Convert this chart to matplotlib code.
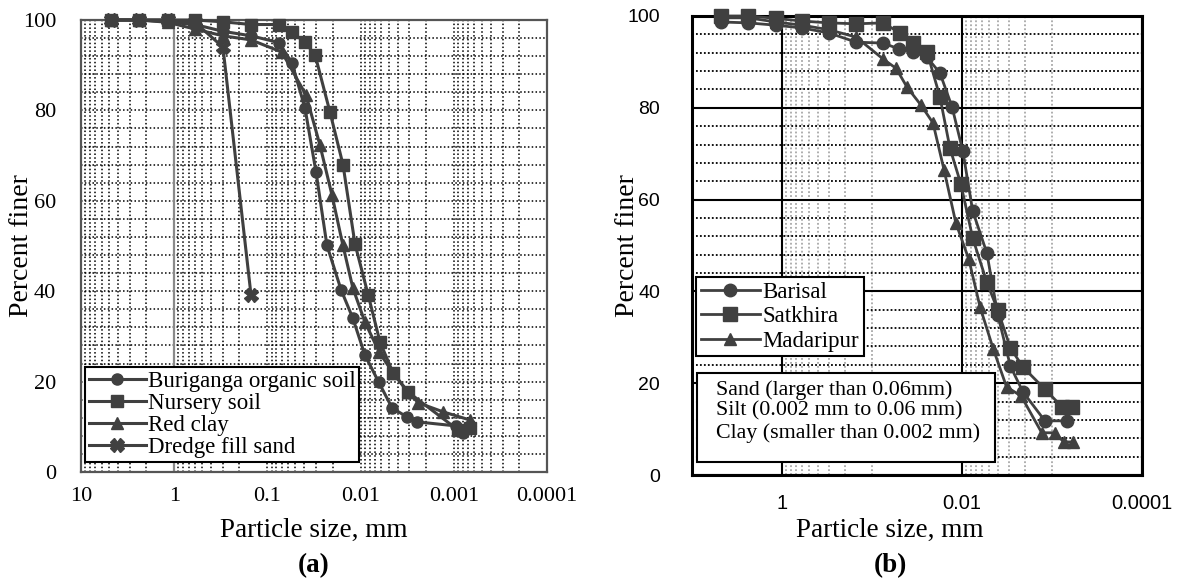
import numpy as np
import matplotlib
matplotlib.use("Agg")
import matplotlib.pyplot as plt
from matplotlib.ticker import FixedLocator, FixedFormatter, NullFormatter

# ---- data: panel (a) ----
bur_d = [4.75, 2.36, 1.18, 0.6, 0.3, 0.15, 0.075, 0.0545, 0.0395, 0.0301, 0.023,
         0.0162, 0.0121, 0.009, 0.0064, 0.0046, 0.0032, 0.0025, 0.00095, 0.0008]
bur_p = [100, 100, 99.6, 99, 97.5, 96.5, 95, 90.5, 80.5, 66.4, 50.2,
         40.3, 34, 25.9, 19.9, 14.2, 12.2, 11.1, 10.2, 8.6]

nur_d = [4.75, 2.36, 1.18, 0.6, 0.3, 0.15, 0.075, 0.0545, 0.0396, 0.0308, 0.0213,
         0.01545, 0.0115, 0.0083, 0.0062, 0.0045, 0.0031, 0.0009, 0.00067]
nur_p = [100, 100, 100, 100, 99.6, 99, 99, 97.3, 95.1, 92.3, 79.6,
         68, 50.5, 39.2, 28.8, 22, 17.7, 9.3, 9.7]

red_d = [4.75, 2.36, 1.18, 0.6, 0.3, 0.15, 0.07, 0.0385, 0.0273, 0.0203, 0.0155,
         0.0121, 0.009, 0.0063, 0.0045, 0.0031, 0.0024, 0.0013, 0.00067]
red_p = [100, 100, 99.5, 98, 96.5, 95.6, 92.9, 83.4, 72.3, 61.3, 50.2,
         40.7, 33.2, 26.5, 21.9, 17.7, 15.3, 13.3, 11.5]

dre_d = [4.75, 2.36, 1.18, 0.6, 0.3, 0.15]
dre_p = [100, 100, 100, 99.5, 94, 39.2]

# ---- data: panel (b) ----
bar_d = [4.75, 2.36, 1.18, 0.6, 0.3, 0.15, 0.075, 0.05, 0.035, 0.0245, 0.0176,
         0.0129, 0.0098, 0.0076, 0.0053, 0.004, 0.0029, 0.0021, 0.0012, 0.00068]
bar_p = [98.7, 98.5, 98, 97.4, 96.3, 94.3, 94.1, 92.8, 92.2, 91, 87.6,
         80.2, 70.6, 57.5, 48.4, 34.9, 23.7, 18.1, 11.8, 11.8]

sat_d = [4.75, 2.36, 1.18, 0.6, 0.3, 0.15, 0.075, 0.049, 0.035, 0.0245, 0.0176,
         0.0136, 0.0103, 0.0076, 0.0053, 0.004, 0.0029, 0.0021, 0.0012, 0.00077, 0.0006]
sat_p = [100, 100, 99.5, 98.9, 98.5, 98.3, 98.5, 96.3, 94.1, 92.2, 82.4,
         71.2, 63.4, 51.6, 42, 35.9, 27.7, 23.5, 18.7, 14.8, 14.8]

mad_d = [4.75, 2.36, 1.18, 0.6, 0.3, 0.15, 0.075, 0.054, 0.0408, 0.0286, 0.021,
         0.0158, 0.0117, 0.0084, 0.0063, 0.0045, 0.0032, 0.0022, 0.0013, 0.00093,
         0.00074, 0.00058]
mad_p = [99.6, 99.6, 98.7, 98, 97, 95.4, 90.6, 88.6, 84.5, 80.6, 76.7,
         66.4, 54.9, 47, 36.6, 27.5, 19.2, 17.2, 9.2, 9.2, 7.2, 7.2]

ticks_a = [10, 1, 0.1, 0.01, 0.001, 0.0001]
ticks_a_lbl = ["10", "1", "0.1", "0.01", "0.001", "0.0001"]
ticks_b = [1, 0.01, 0.0001]
ticks_b_lbl = ["1", "0.01", "0.0001"]
soil_note = "Sand (larger than 0.06mm)\nSilt (0.002 mm to 0.06 mm)\nClay (smaller than 0.002 mm)"

SERIF = "Liberation Serif"
SANS = "Liberation Sans"
LC = "#404040"

fig = plt.figure(figsize=(11.84, 5.85), dpi=100)

# ================= panel (a) =================
ax1 = fig.add_axes([81 / 1184, 113 / 585, 466 / 1184, 452 / 585])
ax1.set_xscale("log")
ax1.set_xlim(10, 0.0001)
ax1.set_ylim(0, 100)
ax1.xaxis.set_major_locator(FixedLocator(ticks_a))
ax1.xaxis.set_major_formatter(FixedFormatter(ticks_a_lbl))
minor_a = [m * 10.0 ** e for e in range(-4, 1) for m in range(2, 10)]
ax1.xaxis.set_minor_locator(FixedLocator(minor_a))
ax1.xaxis.set_minor_formatter(NullFormatter())
ax1.yaxis.set_major_locator(FixedLocator(np.arange(0, 101, 20)))
ax1.yaxis.set_minor_locator(FixedLocator(np.arange(0, 101, 4)))
ax1.grid(which="both", color="black", linestyle=(0, (1, 1.5)), linewidth=1.1)
ax1.set_axisbelow(True)
ax1.axvline(1, color="#8a8a8a", linewidth=1.6, zorder=1.5)
ax1.tick_params(which="both", length=0)
ax1.tick_params(axis="x", pad=11, labelsize=16)
ax1.tick_params(axis="y", pad=18, labelsize=16)
for lab in ax1.get_xticklabels() + ax1.get_yticklabels():
    lab.set_fontfamily(SERIF)
for sp in ax1.spines.values():
    sp.set_color("#555555")
    sp.set_linewidth(1.6)

kw = dict(color=LC, linewidth=2.2, clip_on=False, zorder=3)
ax1.plot(bur_d, bur_p, marker="o", markersize=8, label="Buriganga organic soil", **kw)
ax1.plot(nur_d, nur_p, marker="s", markersize=9, label="Nursery soil", **kw)
ax1.plot(red_d, red_p, marker="^", markersize=9, label="Red clay", **kw)
ax1.plot(dre_d, dre_p, marker="X", markersize=10, label="Dredge fill sand", **kw)

leg1 = ax1.legend(loc="upper left", bbox_to_anchor=(0.009, 0.232), borderaxespad=0,
                  prop={"family": SERIF, "size": 16.5}, frameon=True, fancybox=False,
                  framealpha=1, edgecolor="black", handlelength=2.5,
                  handletextpad=0.1, labelspacing=0.05, borderpad=0.15)
leg1.get_frame().set_linewidth(1.5)

fig.text(314 / 1184, 1 - 530 / 585, "Particle size, mm", ha="center", va="center",
         family=SERIF, fontsize=19.5)
fig.text(314 / 1184, 1 - 566 / 585, "(a)", ha="center", va="center",
         family=SERIF, fontsize=19.5, fontweight="bold")
fig.text(22 / 1184, 1 - 246 / 585, "Percent finer", ha="center", va="center",
         rotation=90, family=SERIF, fontsize=20)

# ================= panel (b) =================
ax2 = fig.add_axes([692 / 1184, 110 / 585, 450 / 1184, 459 / 585])
ax2.set_xscale("log")
ax2.set_xlim(10, 0.0001)
ax2.set_ylim(0, 100)
ax2.xaxis.set_major_locator(FixedLocator(ticks_b))
ax2.xaxis.set_major_formatter(FixedFormatter(ticks_b_lbl))
minor_b = [m * 0.1 for m in range(1, 10)] + [m * 0.001 for m in range(1, 10)]
ax2.xaxis.set_minor_locator(FixedLocator(minor_b))
ax2.xaxis.set_minor_formatter(NullFormatter())
ax2.yaxis.set_major_locator(FixedLocator(np.arange(0, 101, 20)))
ax2.yaxis.set_minor_locator(FixedLocator([v for v in range(4, 100, 4) if v % 20]))
ax2.xaxis.grid(True, which="major", color="black", linewidth=1.5)
ax2.yaxis.grid(True, which="major", color="black", linewidth=1.5)
ax2.xaxis.grid(True, which="minor", color="#a8a8a8", linestyle=(0, (1, 1.2)), linewidth=1.3)
ax2.yaxis.grid(True, which="minor", color="black", linestyle=(0, (1, 1.2)), linewidth=1.3)
ax2.set_axisbelow(True)
ax2.tick_params(which="both", length=0)
ax2.tick_params(axis="x", pad=14, labelsize=14.5)
ax2.tick_params(axis="y", pad=23, labelsize=14)
for lab in ax2.get_xticklabels() + ax2.get_yticklabels():
    lab.set_fontfamily(SANS)
for sp in ax2.spines.values():
    sp.set_color("black")
    sp.set_linewidth(2.2)

kw2 = dict(color=LC, linewidth=2.0, clip_on=False, zorder=3)
ax2.plot(bar_d, bar_p, marker="o", markersize=9, label="Barisal", **kw2)
ax2.plot(sat_d, sat_p, marker="s", markersize=9.5, label="Satkhira", **kw2)
ax2.plot(mad_d, mad_p, marker="^", markersize=9, label="Madaripur", **kw2)

leg2 = ax2.legend(loc="upper left", bbox_to_anchor=(0.009, 0.431), borderaxespad=0,
                  prop={"family": SERIF, "size": 16.5}, frameon=True, fancybox=False,
                  framealpha=1, edgecolor="black", handlelength=2.6,
                  handletextpad=0.1, labelspacing=0.15, borderpad=0.2)
leg2.get_frame().set_linewidth(1.5)

box = plt.Rectangle((0.011, 0.028), 0.662, 0.194, transform=ax2.transAxes,
                    facecolor="white", edgecolor="black", linewidth=1.5, zorder=4)
ax2.add_patch(box)
ax2.text(0.054, 0.207, soil_note, transform=ax2.transAxes, ha="left", va="top",
         family=SERIF, fontsize=15.8, linespacing=1.14, zorder=5)

fig.text(890 / 1184, 1 - 530 / 585, "Particle size, mm", ha="center", va="center",
         family=SERIF, fontsize=19.5)
fig.text(890 / 1184, 1 - 566 / 585, "(b)", ha="center", va="center",
         family=SERIF, fontsize=19.5, fontweight="bold")
fig.text(628 / 1184, 1 - 246 / 585, "Percent finer", ha="center", va="center",
         rotation=90, family=SERIF, fontsize=20)

fig.savefig("out.png", dpi=100)
